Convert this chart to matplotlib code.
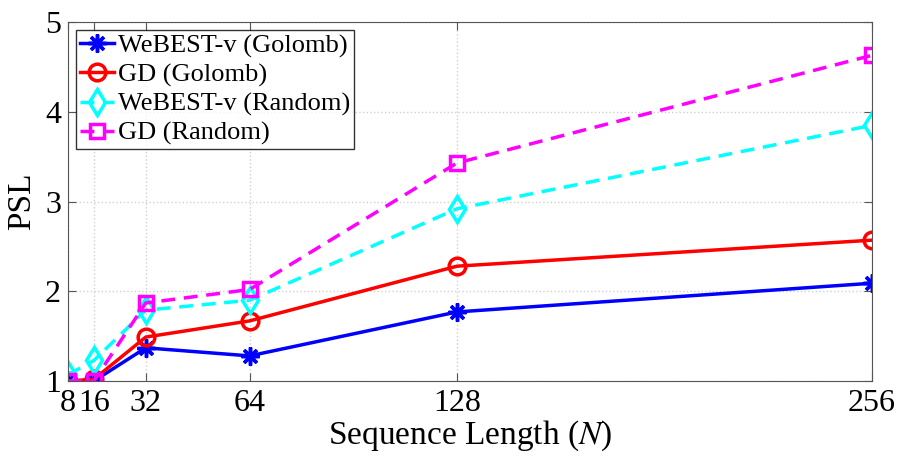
import matplotlib
matplotlib.use("Agg")
import matplotlib.pyplot as plt

plt.rcParams['font.family'] = ['Liberation Serif', 'DejaVu Serif']
plt.rcParams['mathtext.fontset'] = 'stix'

lengths = [8, 16, 32, 64, 128, 256]
webest_golomb = [1.0, 1.0, 1.37, 1.28, 1.77, 2.09]
gd_golomb = [1.0, 1.02, 1.49, 1.67, 2.28, 2.57]
webest_random = [1.07, 1.23, 1.79, 1.90, 2.92, 3.85]
gd_random = [1.0, 1.0, 1.87, 2.02, 3.43, 4.63]

fig = plt.figure(figsize=(8.98, 4.61), dpi=100)
ax = fig.add_axes([0.0757, 0.1735, 0.8953, 0.7785])

ax.plot(lengths, webest_golomb, '-', marker=(8, 2, 0), color='blue', lw=2.5,
        ms=13, mew=2.5, label='WeBEST-v (Golomb)')
ax.plot(lengths, gd_golomb, '-o', color='red', lw=2.5, ms=12, mew=2.5,
        mfc='none', label='GD (Golomb)')
ax.plot(lengths, webest_random, '--d', color='cyan', lw=2.5, ms=13, mew=2.5,
        mfc='none', dashes=(4, 2.5), label='WeBEST-v (Random)')
ax.plot(lengths, gd_random, '--s', color='magenta', lw=2.5, ms=10, mew=2.5,
        mfc='none', dashes=(4, 2.5), label='GD (Random)')

ax.set_xlim(8, 256)
ax.set_ylim(1, 5)
ax.set_xticks(lengths)
ax.set_yticks([1, 2, 3, 4, 5])
ax.tick_params(direction='in', labelsize=23, length=6, top=True, right=True,
               color='#555555')
ax.tick_params(axis='x', pad=6)
ax.tick_params(axis='y', pad=5)
ax.grid(True, linestyle=':', color='#d0d0d0', lw=1)
for s in ax.spines.values():
    s.set_color('#555555')
ax.set_xlabel('Sequence Length ($N$)', fontsize=24, labelpad=0)
ax.set_ylabel('PSL', fontsize=24, labelpad=6)

leg = ax.legend(loc='upper left', fontsize=19, fancybox=False, edgecolor='black',
                handlelength=1.3, handletextpad=0.15, borderpad=0.15,
                labelspacing=0.2, borderaxespad=0.3)
leg.get_frame().set_linewidth(1)

fig.savefig('out.png', dpi=100)
